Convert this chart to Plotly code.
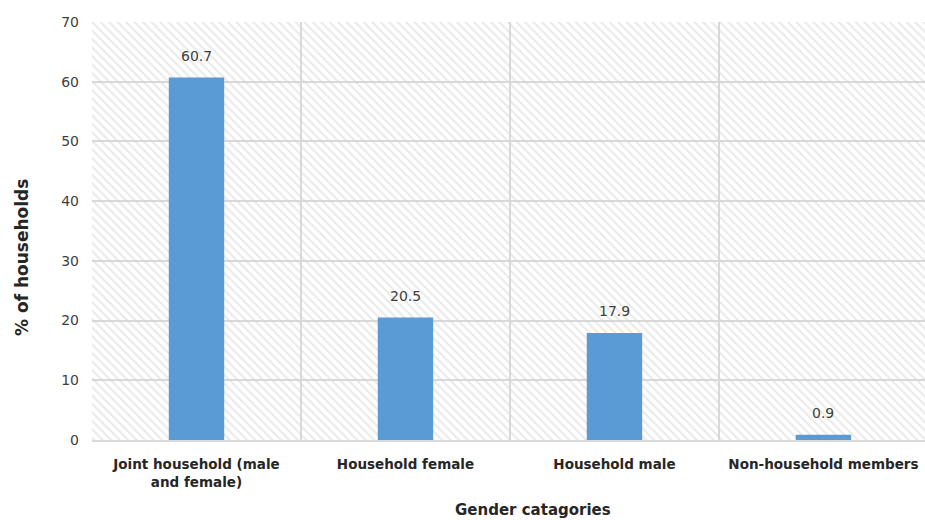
import plotly.graph_objects as go

categories = ["Joint household (male<br>and female)", "Household female", "Household male", "Non-household members"]
values = [60.7, 20.5, 17.9, 0.9]
value_labels = ["60.7", "20.5", "17.9", "0.9"]
y_ticks = [0, 10, 20, 30, 40, 50, 60, 70]
y_max = 70

FONT = "DejaVu Sans"
TXT = "#404040"
DARK = "#262626"

fig = go.Figure()

# hatched background per category
fig.add_trace(go.Bar(
    x=categories, y=[y_max] * len(categories), width=1,
    marker=dict(color="rgba(0,0,0,0)", line=dict(width=0),
                pattern=dict(shape="\\", fgcolor="#d4d4d4", bgcolor="rgba(255,255,255,0)",
                             size=6, solidity=0.35, fillmode="overlay")),
    hoverinfo="skip", showlegend=False,
))

fig.add_trace(go.Bar(
    x=categories, y=values, width=0.265,
    marker=dict(color="#5b9bd5", line=dict(width=0)),
    cliponaxis=False, showlegend=False,
))

annotations = [
    dict(x=c, y=v, xref="x", yref="y", text=t, showarrow=False, yanchor="bottom", yshift=12,
         font=dict(family=FONT, size=14, color=TXT))
    for c, v, t in zip(categories, values, value_labels)
]
annotations += [
    dict(text="<b>% of households</b>", x=(22 - 92) / 833, xref="paper", y=(440 - 258) / 418, yref="paper",
         xanchor="center", yanchor="middle",
         textangle=-90, showarrow=False, font=dict(family=FONT, size=17, color=DARK)),
    dict(text="<b>Gender catagories</b>", x=(533 - 92) / 833, xref="paper", y=(440 - 510) / 418, yref="paper",
         xanchor="center", yanchor="middle",
         showarrow=False, font=dict(family=FONT, size=15, color=DARK)),
]

fig.update_layout(
    width=925, height=520,
    margin=dict(l=92, r=0, t=22, b=80),
    paper_bgcolor="white", plot_bgcolor="white",
    barmode="overlay",
    font=dict(family=FONT, color=TXT),
    xaxis=dict(
        range=[-0.5, 3.486],
        tickson="boundaries", showgrid=True, gridcolor="#d9d9d9", gridwidth=1.5,
        showline=True, linecolor="#d9d9d9", linewidth=1.5,
        tickfont=dict(family=FONT, size=13.5, color=DARK, weight="bold"),
        ticks="", ticklabelstandoff=11,
    ),
    yaxis=dict(
        range=[0, y_max], tickvals=y_ticks, showgrid=True, gridcolor="#d9d9d9", gridwidth=1.5,
        zeroline=False, showline=False,
        tickfont=dict(family=FONT, size=14, color=TXT), ticks="", ticklabelstandoff=12,
    ),
    annotations=annotations,
)

fig.write_html("out.html")
